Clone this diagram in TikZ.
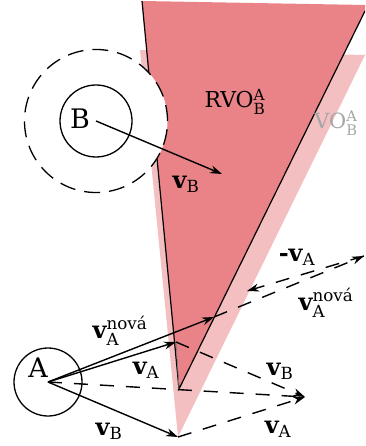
\documentclass[tikz,border=0pt]{standalone}
\usepackage{fontspec}
\setmainfont{DejaVu Serif}
\usepackage{amsmath}
\usepackage{xcolor}
\usetikzlibrary{arrows.meta}
\definecolor{rvored}{RGB}{233,131,136}
\definecolor{vopink}{RGB}{243,191,193}
\definecolor{vogray}{RGB}{165,165,165}

\begin{document}
\begin{tikzpicture}[x=1bp, y=-1bp,
    vec/.style={line width=1.4bp, -{Stealth[length=12bp, width=8bp]}},
    dvec/.style={vec, dash pattern=on 14bp off 12bp},
    lbl/.style={font=\fontsize{24}{28}\selectfont, inner sep=0pt}]
    \useasboundingbox (0,0) rectangle (365,446);
    \clip (0,0) rectangle (365,446);

    % kuzely VO a RVO
    \fill[vopink] (140,50) -- (365,55) -- (178,437) -- cycle;
    \fill[rvored] (142,1) -- (365,5) -- (365,11) -- (179,389) -- cycle;
    \coordinate (rvotop) at (142,1);
    \coordinate (rvoapex) at (179,389);
    \coordinate (rvoright) at (365,11);
    \draw[line width=1.2bp] (rvotop) -- (rvoapex) -- (rvoright);

    % robot B
    \node[circle, draw, dash pattern=on 16bp off 9bp, line width=1.3bp,
        fill=white, minimum size=143bp] (zoneB) at (96,121) {};
    \node[circle, draw, line width=1.3bp, minimum size=72bp] (cB) at (96,121) {};
    \node[font=\fontsize{27}{30}\selectfont, inner sep=0pt] (labB) at (80,119) {B};
    \coordinate (tipB) at (222,174);
    \draw[vec] (cB.center) -- (tipB);

    % robot A
    \node[circle, draw, line width=1.3bp, minimum size=68bp] (cA) at (48,382) {};
    \node[font=\fontsize{27}{30}\selectfont, inner sep=0pt] (labA) at (38,368) {A};
    \coordinate (tipvA) at (176,342);
    \coordinate (tipvB) at (178,437);
    \coordinate (tipnew) at (214,317);
    \coordinate (sum) at (305,397);
    \coordinate (farQ) at (364,256);
    \coordinate (onVO) at (247,291);

    \draw[gray, line width=0.7bp] (tipvA) -- (rvoapex);
    \draw[line width=1.4bp, dash pattern=on 14bp off 12bp] (cA.center) -- (sum);
    \draw[dvec] (tipvA) -- (sum);
    \draw[dvec] (tipvB) -- (sum);
    \draw[dvec] (tipnew) -- (farQ);
    \draw[dvec] (farQ) -- (onVO);
    \draw[vec] (cA.center) -- (tipvB);
    \draw[vec] (cA.center) -- (tipvA);
    \draw[vec] (cA.center) -- (tipnew);

    % popisky
    \node[font=\fontsize{22}{26}\selectfont, inner sep=0pt] (labRVO) at (235,102)
        {RVO$^{\text{A}}_{\text{B}}$};
    \node[font=\fontsize{21}{25}\selectfont, inner sep=0pt, text=vogray] (labVO) at (336,123)
        {VO$^{\text{A}}_{\text{B}}$};
    \node[lbl] (lvBtop) at (186,184) {$\text{\bfseries v}_{\text{B}}$};
    \node[lbl] (lvnew) at (120,331) {$\text{\bfseries v}_{\text{A}}^{\text{nová}}$};
    \node[lbl] (lvA) at (146,370) {$\text{\bfseries v}_{\text{A}}$};
    \node[lbl] (lvB) at (109,431) {$\text{\bfseries v}_{\text{B}}$};
    \node[lbl] (lvBsum) at (280,371) {$\text{\bfseries v}_{\text{B}}$};
    \node[lbl] (lvAsum) at (278,429) {$\text{\bfseries v}_{\text{A}}$};
    \node[lbl] (lnegA) at (297,257) {$\text{\bfseries -v}_{\text{A}}$};
    \node[lbl] (lvnewQ) at (326,303) {$\text{\bfseries v}_{\text{A}}^{\text{nová}}$};
\end{tikzpicture}
\end{document}
